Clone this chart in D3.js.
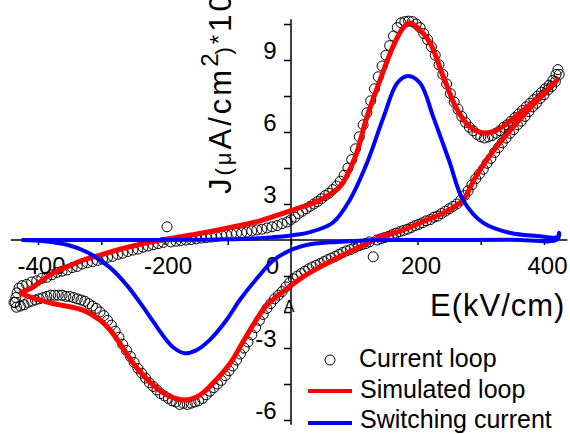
<!DOCTYPE html>
<html>
<head>
<meta charset="utf-8">
<script src="https://cdn.jsdelivr.net/npm/d3@7"></script>
<style>
  html, body { margin: 0; padding: 0; background: #fff; }
  svg { display: block; font-family: "Liberation Sans", Arial, sans-serif; }
</style>
</head>
<body>
<svg id="chart" width="570" height="434"></svg>
<script>
// Measured current loop (increasing field branch), E in kV/cm, J in µA/cm²·10
const loopUp = [
  [-436,-2.6],[-435,-2.4],[-433,-2.2],[-430,-2.0],[-425,-1.9],[-418,-1.85],[-410,-1.75],[-402,-1.7],
  [-394,-1.6],[-386,-1.55],[-378,-1.45],[-370,-1.35],[-362,-1.3],[-354,-1.25],[-346,-1.15],[-338,-1.1],
  [-330,-1.0],[-322,-0.95],[-314,-0.9],[-306,-0.85],[-298,-0.8],[-290,-0.72],[-282,-0.68],[-274,-0.6],
  [-266,-0.55],[-258,-0.48],[-250,-0.42],[-242,-0.38],[-234,-0.3],[-226,-0.25],[-218,-0.2],[-210,-0.15],
  [-202,-0.1],[-196,0.55],[-190,-0.08],[-182,-0.05],[-174,-0.02],[-166,0.0],[-158,0.02],[-150,0.05],
  [-142,0.08],[-134,0.1],[-126,0.12],[-118,0.15],[-110,0.2],[-102,0.22],[-94,0.25],[-86,0.28],
  [-78,0.3],[-70,0.33],[-62,0.38],[-54,0.42],[-46,0.45],[-38,0.5],[-30,0.55],[-22,0.6],
  [-14,0.68],[-6,0.75],[0,0.85],[6,0.95],[12,1.1],[18,1.2],[24,1.3],[30,1.4],
  [36,1.5],[42,1.6],[48,1.72],[54,1.85],[60,1.95],[66,2.1],[72,2.25],[78,2.45],
  [84,2.7],[90,3.0],[96,3.35],[102,3.8],[108,4.3],[114,4.8],[120,5.3],[126,5.8],
  [132,6.3],[138,6.8],[144,7.25],[150,7.7],[156,8.1],[162,8.5],[168,8.85],[174,9.05],
  [180,9.1],[186,9.12],[192,9.1],[198,9.0],[204,8.85],[210,8.6],[216,8.35],[222,8.05],
  [228,7.7],[234,7.3],[240,6.9],[246,6.5],[252,6.1],[258,5.75],[264,5.45],[270,5.15],
  [276,4.9],[282,4.7],[288,4.55],[294,4.4],[300,4.3],[306,4.25],[312,4.3],[318,4.35],
  [324,4.45],[330,4.55],[336,4.7],[342,4.8],[348,4.95],[354,5.1],[360,5.25],[366,5.4],
  [372,5.55],[378,5.7],[384,5.85],[390,6.0],[396,6.15],[402,6.3],[408,6.45],[414,6.65],
  [419,6.9],[422,7.1]
];

// Measured current loop (decreasing field branch)
const loopDown = [
  [424,6.9],[418,6.6],[412,6.4],[406,6.25],[400,6.05],[394,5.9],[388,5.7],[382,5.55],
  [376,5.35],[370,5.15],[364,4.95],[358,4.8],[352,4.6],[346,4.45],[340,4.25],[334,4.05],
  [328,3.85],[322,3.65],[316,3.4],[310,3.2],[304,2.95],[298,2.75],[292,2.55],[286,2.3],
  [280,2.05],[274,1.85],[268,1.65],[262,1.5],[256,1.4],[250,1.3],[244,1.2],[238,1.1],
  [232,1.0],[226,0.95],[220,0.85],[214,0.8],[208,0.72],[202,0.65],[196,0.6],[190,0.52],
  [184,0.45],[178,0.4],[172,0.35],[166,0.28],[160,0.22],[154,0.15],[148,0.1],[142,0.05],
  [136,0.0],[130,-0.7],[124,-0.08],[118,-0.15],[112,-0.2],[106,-0.25],[100,-0.32],[94,-0.4],
  [88,-0.45],[82,-0.52],[76,-0.6],[70,-0.68],[64,-0.75],[58,-0.82],[52,-0.9],[46,-0.98],
  [40,-1.05],[34,-1.12],[28,-1.2],[22,-1.3],[16,-1.4],[10,-1.5],[4,-1.62],[-2,-1.78],
  [-8,-1.95],[-14,-2.15],[-20,-2.3],[-26,-2.45],[-32,-2.65],[-38,-2.85],[-44,-3.1],[-50,-3.35],
  [-56,-3.65],[-62,-3.95],[-68,-4.25],[-74,-4.5],[-80,-4.75],[-86,-5.0],[-92,-5.25],[-98,-5.45],
  [-104,-5.65],[-110,-5.85],[-116,-6.0],[-122,-6.15],[-128,-6.3],[-134,-6.45],[-140,-6.6],[-146,-6.7],
  [-152,-6.75],[-158,-6.8],[-164,-6.85],[-170,-6.8],[-176,-6.85],[-182,-6.75],[-188,-6.7],[-194,-6.6],
  [-200,-6.5],[-206,-6.4],[-212,-6.25],[-218,-6.1],[-224,-5.95],[-230,-5.75],[-236,-5.55],[-242,-5.35],
  [-248,-5.1],[-254,-4.85],[-260,-4.6],[-266,-4.35],[-272,-4.05],[-278,-3.8],[-284,-3.55],[-290,-3.35],
  [-296,-3.15],[-302,-3.0],[-308,-2.85],[-314,-2.75],[-320,-2.65],[-326,-2.55],[-332,-2.5],[-338,-2.45],
  [-344,-2.4],[-350,-2.35],[-356,-2.35],[-362,-2.3],[-368,-2.3],[-374,-2.3],[-380,-2.3],[-386,-2.35],
  [-392,-2.4],[-398,-2.45],[-404,-2.5],[-410,-2.55],[-416,-2.6],[-422,-2.7],[-428,-2.75],[-434,-2.8],
  [-438,-2.6]
];

// Simulated loop: rising-field branch then falling-field branch
const simUp = [
  [-429,-2.21],[-408,-1.96],[-381,-1.45],[-354,-1.12],[-330,-0.85],[-305,-0.65],[-250,-0.25],
  [-196,0.04],[-144,0.27],[-92,0.54],[-49,0.8],[3,1.25],[46,1.67],[78,2.25],[101,3.42],
  [120,5.12],[141,6.67],[161,8.04],[177,8.83],[188,9.04],[204,8.75],[220,8.21],[241,6.79],
  [263,5.42],[283,4.71],[304,4.46],[326,4.58],[354,5.12],[386,5.83],[410,6.37],[421,6.67]
];
const simDown = [
  [421,6.67],[402,6.17],[378,5.5],[347,4.58],[315,3.54],[291,2.58],[272,1.67],[244,1.17],
  [204,0.71],[172,0.37],[141,0.12],[109,-0.29],[73,-0.75],[46,-1.12],[19,-1.54],[-9,-2.08],
  [-38,-2.71],[-57,-3.42],[-76,-4.25],[-97,-5.17],[-123,-5.96],[-144,-6.46],[-168,-6.67],
  [-196,-6.46],[-223,-5.92],[-250,-5.12],[-271,-4.29],[-286,-3.75],[-302,-3.33],[-329,-2.92],
  [-381,-2.62],[-413,-2.37],[-429,-2.21]
];

// Switching current: rising-field branch then falling-field branch
const switchUp = [
  [-426,0],[-350,0],[-250,0],[-150,0.01],[-80,0.04],[-28,0.12],[3,0.2],[30,0.33],[66,0.72],
  [93,1.67],[120,3.2],[146,5.1],[168,6.54],[185,6.83],[204,6.54],[225,5.12],[250,3.3],
  [272,1.67],[304,0.71],[347,0.29],[389,0.17],[421,0.12],[424,0.3]
];
const switchDown = [
  [421,0.02],[350,0.01],[250,0],[150,0],[125,-0.01],[73,-0.08],[30,-0.18],[3,-0.38],
  [-28,-0.85],[-49,-1.45],[-81,-2.5],[-101,-3.3],[-128,-4.15],[-150,-4.6],[-168,-4.72],
  [-185,-4.5],[-196,-4.2],[-210,-3.7],[-223,-3.2],[-239,-2.6],[-259,-1.9],[-286,-1.15],
  [-323,-0.5],[-354,-0.2],[-390,-0.05],[-426,0]
];

// Axis ticks
const xTicks = [-400,-300,-200,-100,0,100,200,300,400];
const xLabels = [-400,-200,0,200,400];
const yTicks = [-7.5,-6,-4.5,-3,-1.5,1.5,3,4.5,6,7.5,9];
const yLabels = [-6,-3,3,6,9];

const legendItems = ["Current loop", "Simulated loop", "Switching current"];

const svg = d3.select("#chart");
const x = d3.scaleLinear().domain([-400, 400]).range([38, 544]);
const y = d3.scaleLinear().domain([-7.5, 9]).range([420, 24]);
const x0 = x(0), y0 = y(0);

// X axis (through J = 0)
const gx = svg.append("g").attr("transform", `translate(0,${y0})`)
  .call(d3.axisBottom(x).tickValues(xTicks).tickSizeInner(5).tickSizeOuter(0).tickPadding(12)
    .tickFormat(d => xLabels.includes(d) ? String(d) : ""));
gx.select(".domain").remove();
gx.selectAll(".tick line").attr("stroke", "#000").attr("stroke-width", 1.5);
gx.selectAll(".tick text").attr("font-size", 24).attr("font-family", "Liberation Sans, Arial, sans-serif")
  .attr("fill", "#000").attr("dx", d => d === 0 ? -19 : 3);
svg.append("line").attr("x1", x(-443)).attr("x2", x(437)).attr("y1", y0).attr("y2", y0)
  .attr("stroke", "#000").attr("stroke-width", 1.5);

// Y axis (through E = 0)
const gy = svg.append("g").attr("transform", `translate(${x0},0)`)
  .call(d3.axisLeft(y).tickValues(yTicks).tickSizeInner(7).tickSizeOuter(0).tickPadding(7.5)
    .tickFormat(d => yLabels.includes(d) ? String(d) : ""));
gy.select(".domain").remove();
gy.selectAll(".tick line").attr("stroke", "#000").attr("stroke-width", 1.5);
gy.selectAll(".tick text").attr("font-size", 24).attr("font-family", "Liberation Sans, Arial, sans-serif")
  .attr("fill", "#000").attr("dy", 34);
svg.append("line").attr("x1", x0).attr("x2", x0).attr("y1", y(9.2)).attr("y2", y(-7.7))
  .attr("stroke", "#000").attr("stroke-width", 1.5);

// Measured points
const pts = loopUp.concat(loopDown);
svg.append("g").selectAll("circle").data(pts).join("circle")
  .attr("cx", d => x(d[0])).attr("cy", d => y(d[1])).attr("r", 5)
  .attr("fill", "none").attr("stroke", "#000").attr("stroke-width", 1);

const line = d3.line().x(d => x(d[0])).y(d => y(d[1])).curve(d3.curveCatmullRom.alpha(0.5));

// Simulated loop
svg.append("path").attr("d", line(simUp.concat(simDown.slice(1))))
  .attr("fill", "none").attr("stroke", "#ff0000").attr("stroke-width", 5).attr("stroke-linejoin", "round");

// Switching current
svg.append("path").attr("d", line(switchUp.concat(switchDown)))
  .attr("fill", "none").attr("stroke", "#0000ff").attr("stroke-width", 4).attr("stroke-linejoin", "round");

// Point label near the origin
svg.append("text").attr("x", 289).attr("y", 312).attr("font-size", 16)
  .attr("text-anchor", "middle").text("A");

// Axis titles
svg.append("text").attr("x", 430).attr("y", 316).attr("font-size", 31)
  .attr("letter-spacing", 1).text("E(kV/cm)");

const yt = svg.append("text").attr("transform", "translate(231,194) rotate(-90)")
  .attr("font-size", 31).attr("letter-spacing", 3);
yt.append("tspan").text("J");
yt.append("tspan").attr("font-size", 22).text("(\u03bc");
yt.append("tspan").text("A/cm");
yt.append("tspan").attr("font-size", 24).attr("dy", -13).text("2");
yt.append("tspan").attr("font-size", 22).attr("dy", 13).attr("dx", -4).text(")");
yt.append("tspan").attr("font-size", 24).attr("dy", -4).text("*");
yt.append("tspan").attr("dy", 4).text("10");

// Legend
const lg = svg.append("g");
lg.append("circle").attr("cx", 330).attr("cy", 360).attr("r", 5)
  .attr("fill", "none").attr("stroke", "#000").attr("stroke-width", 1);
lg.append("line").attr("x1", 308).attr("x2", 352).attr("y1", 391).attr("y2", 391)
  .attr("stroke", "#ff0000").attr("stroke-width", 4);
lg.append("line").attr("x1", 308).attr("x2", 352).attr("y1", 423).attr("y2", 423)
  .attr("stroke", "#0000ff").attr("stroke-width", 4);
lg.selectAll("text.lab").data(legendItems).join("text").attr("class", "lab")
  .attr("x", (d, i) => i === 0 ? 359 : 360)
  .attr("y", (d, i) => [367, 398, 428][i])
  .attr("font-size", 25).text(d => d);
</script>
</body>
</html>
